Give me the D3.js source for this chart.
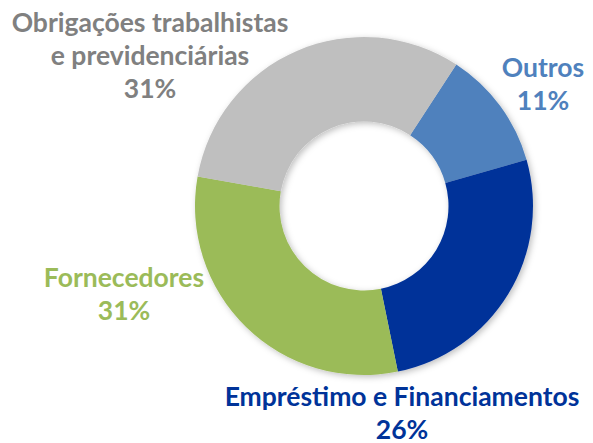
<!DOCTYPE html>
<html>
<head>
<meta charset="utf-8">
<script src="https://cdn.jsdelivr.net/npm/d3@7"></script>
<style>
  body { margin: 0; background: white; }
</style>
</head>
<body>
<div id="vis"></div>
<script>
var width = 593
var height = 443

// data
var categories = ["Outros", "Empréstimo e Financiamentos", "Fornecedores", "Obrigações trabalhistas e previdenciárias"]
var values = [11.4, 26.2, 31.0, 31.4]
var labelLines = [["Outros"], ["Empréstimo e Financiamentos"], ["Fornecedores"], ["Obrigações trabalhistas", "e previdenciárias"]]

var colors = ["#4F81BD", "#003399", "#9BBB59", "#BFBFBF"]
var textColors = ["#4F81BD", "#003399", "#9BBB59", "#808080"]

// label anchor (x center, first baseline) - placed by hand like excel's best fit
var labelPos = [[543, 77], [402, 406], [124, 287], [150, 32]]
var lineGap = 33

var cx = 364, cy = 206
var outerR = 169, innerR = 84.5

var svg = d3.select("#vis")
  .append("svg")
  .attr("width", width)
  .attr("height", height)
  .style("display", "block")

var defs = svg.append("defs")
var filter = defs.append("filter")
  .attr("id", "shadow")
  .attr("x", "-20%").attr("y", "-20%")
  .attr("width", "140%").attr("height", "140%")
filter.append("feDropShadow")
  .attr("dx", 2)
  .attr("dy", 2)
  .attr("stdDeviation", 3)
  .attr("flood-color", "#000")
  .attr("flood-opacity", 0.25)

var total = d3.sum(values)

var start = 33.1 * Math.PI / 180
var pie = d3.pie()
  .sort(null)
  .startAngle(start)
  .endAngle(start + 2 * Math.PI)

var arc = d3.arc()
  .innerRadius(innerR)
  .outerRadius(outerR)

var g = svg.append("g")
  .attr("transform", `translate(${cx},${cy})`)
  .attr("filter", "url(#shadow)")

g.selectAll("path")
  .data(pie(values))
  .enter().append("path")
    .attr("d", arc)
    .attr("fill", (d, i) => colors[i])

//labels
var fmt = d3.format(".0%")

var labels = svg.append("g")
  .selectAll("text")
  .data(categories)
  .enter().append("text")
    .attr("text-anchor", "middle")
    .style("font-family", "Lato, 'Open Sans', sans-serif")
    .style("font-weight", "bold")
    .style("font-size", "26.5px")
    .attr("fill", (d, i) => textColors[i])

labels.each(function(d, i) {
  var t = d3.select(this)
  var lines = labelLines[i].concat([fmt(values[i] / total)])
  lines.forEach(function(line, j) {
    t.append("tspan")
      .attr("x", labelPos[i][0])
      .attr("y", labelPos[i][1] + j * lineGap)
      .text(line)
  })
})
</script>
</body>
</html>
